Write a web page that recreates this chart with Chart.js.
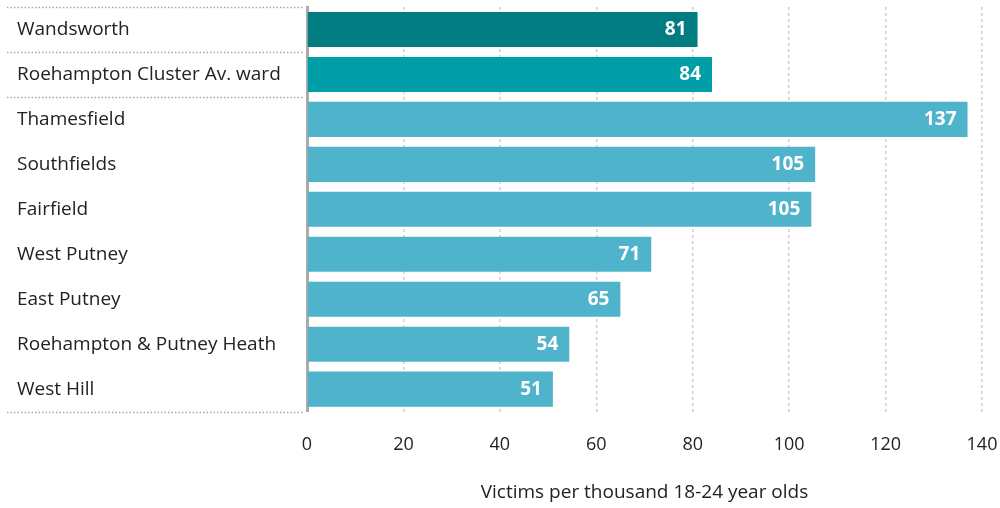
<!DOCTYPE html>
<html>
<head>
<meta charset="utf-8">
<script src="https://cdn.jsdelivr.net/npm/chart.js@4/dist/chart.umd.min.js"></script>
<style>
  html, body { margin: 0; padding: 0; background: #fff; }
  #wrap { width: 1000px; height: 508px; position: relative; }
</style>
</head>
<body>
<div id="wrap"><canvas id="grafico"></canvas></div>
<script>
// dados
const categorias = ['Wandsworth', 'Roehampton Cluster Av. ward', 'Thamesfield', 'Southfields', 'Fairfield', 'West Putney', 'East Putney', 'Roehampton & Putney Heath', 'West Hill'];
const valores = [81, 84, 137, 105.4, 104.6, 71.4, 65, 54.4, 51];
const rotulos = ['81', '84', '137', '105', '105', '71', '65', '54', '51'];
const cores = ['#017C80', '#009EA6', '#4FB3CB', '#4FB3CB', '#4FB3CB', '#4FB3CB', '#4FB3CB', '#4FB3CB', '#4FB3CB'];
const tituloX = 'Victims per thousand 18-24 year olds';

const fonte = "'Open Sans', 'Noto Sans', sans-serif";

// separadores pontilhados na coluna de nomes
const separadores = {
    id: 'separadores',
    afterDraw: function (chart) {
        const { ctx, chartArea, scales: { y } } = chart;
        const meio = (i) => (y.getPixelForValue(i) + y.getPixelForValue(i + 1)) / 2;
        const linhas = [chartArea.top, meio(0), meio(1), chartArea.bottom];
        ctx.save();
        ctx.strokeStyle = '#a8a8a8';
        ctx.lineWidth = 1.5;
        ctx.setLineDash([1.5, 2]);
        linhas.forEach(py => {
            ctx.beginPath();
            ctx.moveTo(7, Math.round(py) + 0.5);
            ctx.lineTo(chartArea.left - 4, Math.round(py) + 0.5);
            ctx.stroke();
        });
        ctx.restore();
    }
};

// valores dentro das barras
const valoresBarras = {
    id: 'valoresBarras',
    afterDatasetsDraw: function (chart) {
        const { ctx } = chart;
        const meta = chart.getDatasetMeta(0);
        ctx.save();
        ctx.font = 'bold 19px ' + fonte;
        ctx.fillStyle = '#ffffff';
        ctx.textAlign = 'right';
        ctx.textBaseline = 'middle';
        meta.data.forEach((bar, i) => {
            ctx.fillText(rotulos[i], bar.x - 11, bar.y);
        });
        ctx.restore();
    }
};

new Chart(document.getElementById('grafico'), {
    type: 'bar',
    data: {
        labels: categorias,
        datasets: [{
            data: valores,
            backgroundColor: cores,
            borderWidth: 0,
            barPercentage: 0.78,
            categoryPercentage: 1
        }]
    },
    options: {
        indexAxis: 'y',
        responsive: true,
        maintainAspectRatio: false,
        animation: false,
        layout: { padding: { top: 7, left: 17, right: 0, bottom: 4 } },
        plugins: {
            legend: { display: false },
            tooltip: { enabled: false }
        },
        scales: {
            x: {
                min: 0,
                max: 140,
                ticks: {
                    stepSize: 20,
                    padding: 22,
                    color: '#222',
                    font: { family: fonte, size: 18 }
                },
                grid: {
                    color: '#cfcfcf',
                    lineWidth: 1.5,
                    drawTicks: false
                },
                border: { display: false, dash: [3, 3] },
                title: {
                    display: true,
                    text: tituloX,
                    color: '#222',
                    font: { family: fonte, size: 19 },
                    padding: { top: 4, bottom: 0 }
                },
                afterFit: function (scale) {
                    scale.paddingRight = 18;
                }
            },
            y: {
                ticks: {
                    crossAlign: 'far',
                    color: '#222',
                    font: { family: fonte, size: 19 }
                },
                grid: { display: false },
                border: { display: true, color: '#ababab', width: 3 },
                afterFit: function (scale) {
                    scale.width = 290;
                    scale.paddingTop = 0;
                    scale.paddingBottom = 0;
                }
            }
        }
    },
    plugins: [separadores, valoresBarras]
});
</script>
</body>
</html>
